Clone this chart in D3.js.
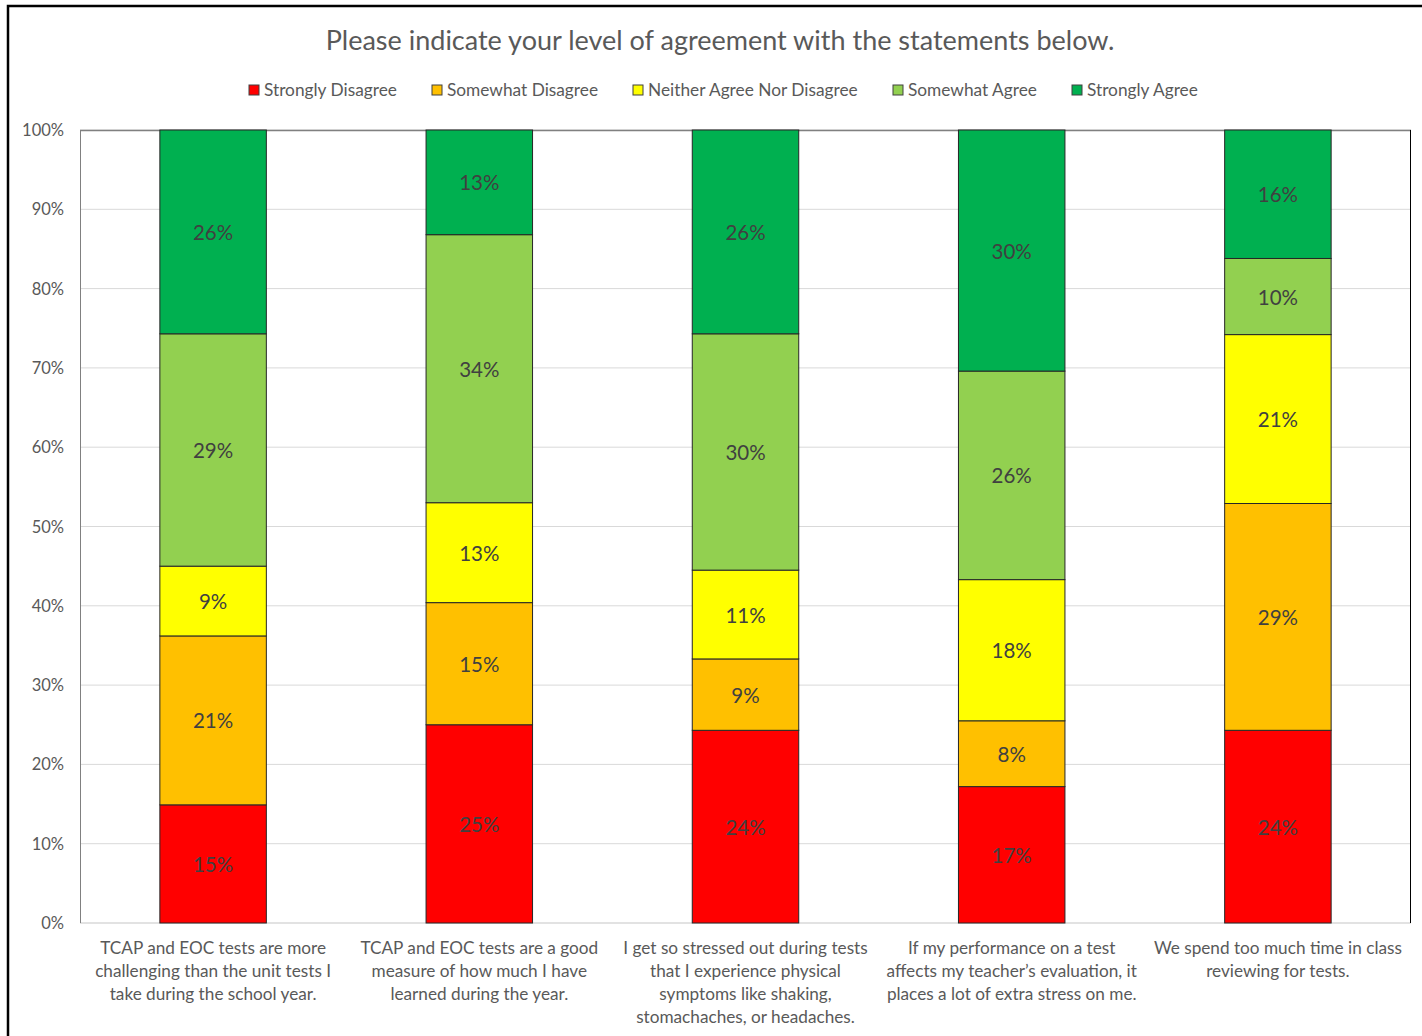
<!DOCTYPE html>
<html>
<head>
<meta charset="utf-8">
<script src="https://cdn.jsdelivr.net/npm/d3@7"></script>
<style>
  body { margin: 0; background: #fff; }
  svg { display: block; font-family: Lato, "Open Sans", sans-serif; }
</style>
</head>
<body>
<div id="chart"></div>
<script>
var w = 1422;
var h = 1036;

var categories = [
    "TCAP and EOC tests are more|challenging than the unit tests I|take during the school year.",
    "TCAP and EOC tests are a good|measure of how much I have|learned during the year.",
    "I get so stressed out during tests|that I experience physical|symptoms like shaking,|stomachaches, or headaches.",
    "If my performance on a test|affects my teacher\u2019s evaluation, it|places a lot of extra stress on me.",
    "We spend too much time in class|reviewing for tests."
];
var seriesNames = ["Strongly Disagree", "Somewhat Disagree", "Neither Agree Nor Disagree", "Somewhat Agree", "Strongly Agree"];
var colors = ["#ff0000", "#ffc000", "#ffff00", "#92d050", "#00b050"];

// percent values per series, one per category
var stronglyDisagree = [14.9, 25.0, 24.3, 17.2, 24.3];
var somewhatDisagree = [21.3, 15.4, 9.0, 8.3, 28.6];
var neither = [8.8, 12.6, 11.2, 17.8, 21.3];
var somewhatAgree = [29.3, 33.8, 29.8, 26.3, 9.6];
var stronglyAgree = [25.7, 13.2, 25.7, 30.4, 16.2];
var yTicks = [0, 10, 20, 30, 40, 50, 60, 70, 80, 90, 100];

var rows = categories.map(function (c, i) {
    return {
        cat: c,
        "Strongly Disagree": stronglyDisagree[i],
        "Somewhat Disagree": somewhatDisagree[i],
        "Neither Agree Nor Disagree": neither[i],
        "Somewhat Agree": somewhatAgree[i],
        "Strongly Agree": stronglyAgree[i]
    };
});

var margin = {top: 130, left: 80, right: 11, bottom: 113};
var pw = w - margin.left - margin.right;
var ph = h - margin.top - margin.bottom;

var svg = d3.select("#chart")
    .append("svg")
    .attr("width", w)
    .attr("height", h);

// outer frame
svg.append("rect")
    .attr("x", 8).attr("y", 6)
    .attr("width", w).attr("height", h)
    .attr("fill", "none")
    .attr("stroke", "#000")
    .attr("stroke-width", 2.5);

svg.append("text")
    .attr("x", 720).attr("y", 50)
    .attr("text-anchor", "middle")
    .attr("font-size", "27px")
    .attr("fill", "#595959")
    .text("Please indicate your level of agreement with the statements below.");

var x = d3.scaleBand().domain(categories).range([0, pw]);
var y = d3.scaleLinear().domain([0, 100]).range([ph, 0]);

var g = svg.append("g").attr("transform", "translate(" + margin.left + "," + margin.top + ")");

// gridlines
g.selectAll(".grid")
    .data(yTicks.slice(1))
    .enter()
    .append("line")
    .attr("x1", 0).attr("x2", pw)
    .attr("y1", function (d) { return y(d); })
    .attr("y2", function (d) { return y(d); })
    .attr("stroke", "#d9d9d9");

g.append("line")
    .attr("x1", 0).attr("x2", pw)
    .attr("y1", ph).attr("y2", ph)
    .attr("stroke", "#d9d9d9").attr("stroke-width", 1.5);

// plot frame: top grey, left grey, right dark
g.append("line").attr("x1", 0).attr("x2", pw).attr("y1", 0.5).attr("y2", 0.5)
    .attr("stroke", "#808080").attr("stroke-width", 1.5);
g.append("line").attr("x1", 0.5).attr("x2", 0.5).attr("y1", 0).attr("y2", ph)
    .attr("stroke", "#808080");
g.append("line").attr("x1", pw - 0.5).attr("x2", pw - 0.5).attr("y1", 0).attr("y2", ph)
    .attr("stroke", "#000");

var stack = d3.stack().keys(seriesNames);
var layers = stack(rows);
var bw = x.bandwidth() * 0.4;

var layer = g.selectAll(".layer")
    .data(layers)
    .enter()
    .append("g")
    .attr("fill", function (d, i) { return colors[i]; });

layer.selectAll("rect")
    .data(function (d) { return d; })
    .enter()
    .append("rect")
    .attr("x", function (d) { return x(d.data.cat) + (x.bandwidth() - bw) / 2; })
    .attr("y", function (d) { return y(d[1]); })
    .attr("width", bw)
    .attr("height", function (d) { return y(d[0]) - y(d[1]); })
    .attr("stroke", "#262626")
    .attr("stroke-width", 1);

layer.selectAll("text")
    .data(function (d) { return d; })
    .enter()
    .append("text")
    .attr("x", function (d) { return x(d.data.cat) + x.bandwidth() / 2; })
    .attr("y", function (d) { return y((d[0] + d[1]) / 2) + 8; })
    .attr("text-anchor", "middle")
    .attr("font-size", "20.5px")
    .attr("fill", "#404040")
    .text(function (d) { return Math.round(d[1] - d[0]) + "%"; });

// y axis labels
g.selectAll(".ytick")
    .data(yTicks)
    .enter()
    .append("text")
    .attr("x", -16)
    .attr("y", function (d) { return y(d) + 6; })
    .attr("text-anchor", "end")
    .attr("font-size", "16.5px")
    .attr("fill", "#595959")
    .text(function (d) { return d + "%"; });

// category labels
var cl = g.selectAll(".cat")
    .data(categories)
    .enter()
    .append("text")
    .attr("text-anchor", "middle")
    .attr("font-size", "17.2px")
    .attr("fill", "#595959");

cl.selectAll("tspan")
    .data(function (d) { return d.split("|").map(function (s) { return {s: s, c: d}; }); })
    .enter()
    .append("tspan")
    .attr("x", function (d) { return x(d.c) + x.bandwidth() / 2; })
    .attr("y", function (d, i) { return ph + 31 + i * 23; })
    .text(function (d) { return d.s; });

// legend
var legendX = [249, 432, 633, 893, 1072];
var lg = svg.selectAll(".legend")
    .data(seriesNames)
    .enter()
    .append("g")
    .attr("transform", function (d, i) { return "translate(" + legendX[i] + ",85)"; });

lg.append("rect")
    .attr("width", 10).attr("height", 10)
    .attr("fill", function (d, i) { return colors[i]; })
    .attr("stroke", "#404040");

lg.append("text")
    .attr("x", 15).attr("y", 11)
    .attr("font-size", "17.3px")
    .attr("fill", "#595959")
    .text(function (d) { return d; });
</script>
</body>
</html>
